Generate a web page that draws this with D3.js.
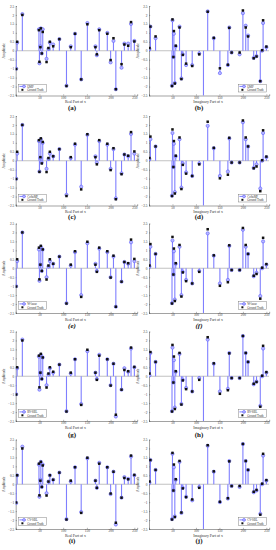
<!DOCTYPE html>
<html><head><meta charset="utf-8">
<script src="https://cdn.jsdelivr.net/npm/d3@7/dist/d3.min.js"></script>
<style>html,body{margin:0;padding:0;background:#fff;}svg{display:block;}</style>
</head><body>
<script>
// ---------- data ----------
const realIndex = [1, 3, 14, 49, 50, 52, 53, 55, 57, 65, 69, 72, 79, 92, 107, 116, 125, 138, 151, 168, 171, 176, 193, 200, 206, 211, 223, 229, 237, 243, 250];
const realTruth = [-1.02, 0.5, 2.0, 1.15, -0.62, 0.2, 1.25, -0.15, 1.05, -0.63, 0.15, 0.5, 0.25, 0.65, -1.97, 0.2, 0.95, -1.6, 1.48, 0.2, -0.2, 1.15, 0.95, -0.52, 0.7, -2.15, -0.75, 0.35, 0.28, 1.6, 0.52];
const realOMP    = [-1.0, 0.45, 2.05, 1.2, -0.7, 0.25, 1.25, -0.15, 1.2, -0.45, 0.1, 0.45, 0.35, 0.65, -1.95, 0.25, 0.95, -1.6, 1.55, 0.25, -0.25, 1.2, 1.0, -0.65, 0.55, -2.15, -0.95, 0.4, 0.4, 1.5, 0.55];
const realCoSaMP = [-1.0, 0.4, 2.0, 1.1, -0.6, 0.15, 1.2, -0.1, 1.0, -0.45, 0.1, 0.4, 0.25, 0.65, -1.9, 0.15, 0.9, -1.45, 1.45, 0.25, -0.1, 1.1, 0.9, -0.45, 0.65, -2.1, -0.7, 0.35, 0.25, 1.5, 0.4];
const realWlasso = [-1.0, 0.4, 2.0, 1.05, -0.7, 0.2, 1.2, -0.15, 1.05, -0.5, 0.1, 0.4, 0.25, 0.65, -1.95, 0.15, 0.9, -1.5, 1.4, 0.25, -0.15, 1.1, 0.9, -0.5, 0.65, -2.15, -0.75, 0.35, 0.25, 1.45, 0.4];
const realRVSBL  = [-1.0, 0.45, 2.05, 1.1, -0.75, 0.2, 1.2, -0.15, 1.05, -0.5, 0.1, 0.45, 0.2, 0.65, -1.95, 0.15, 0.95, -1.55, 1.4, 0.2, -0.15, 1.2, 0.95, -0.5, 0.7, -2.25, -0.75, 0.45, 0.25, 1.55, 0.5];
const realCVSBL  = [-1.05, 0.5, 2.1, 1.1, -0.7, 0.25, 1.25, -0.15, 1.1, -0.5, 0.15, 0.5, 0.25, 0.65, -1.95, 0.15, 0.95, -1.55, 1.45, 0.2, -0.2, 1.2, 0.95, -0.55, 0.7, -2.25, -0.75, 0.4, 0.3, 1.55, 0.5];

const imagIndex = [1, 3, 14, 49, 50, 52, 53, 55, 57, 65, 69, 72, 79, 92, 107, 116, 125, 138, 151, 168, 171, 176, 193, 200, 206, 211, 223, 229, 237, 241, 243, 250];
const imagTruth = [0.15, 1.35, 0.8, -1.97, 1.75, -0.35, 1.1, -1.83, 0.28, 1.3, -1.58, -0.23, -0.72, -0.85, -0.2, -2.7, 2.18, 0.72, -0.98, -0.78, 1.28, -0.1, -0.1, 2.25, 1.3, 0.8, -0.42, -0.32, -1.7, 0.03, 1.7, 0.23];
const imagOMP    = [0.1, 1.35, 0.7, -1.95, 1.7, -0.35, 0.95, -1.8, 0.25, 1.35, -1.55, -0.2, -0.8, -0.8, -0.15, -2.7, 2.2, 0.7, -1.25, -0.8, 1.3, -0.1, -0.2, 2.1, 1.4, 0.85, -0.4, -0.3, -1.7, 0.0, 1.55, 0.2];
const imagCoSaMP = [0.1, 1.2, 0.8, -1.95, 1.55, -0.35, 0.95, -1.75, 0.25, 1.2, -1.5, -0.15, -0.65, -0.85, -0.15, -2.7, 1.95, 0.7, -0.85, -0.6, 1.25, -0.1, -0.1, 2.15, 1.2, 0.8, -0.4, -0.2, -1.55, 0.0, 1.55, 0.2];
const imagWlasso = [0.1, 1.2, 0.8, -1.95, 1.55, -0.35, 0.95, -1.75, 0.25, 1.2, -1.5, -0.2, -0.65, -0.85, -0.15, -2.7, 1.95, 0.7, -0.85, -0.65, 1.25, -0.1, -0.1, 2.15, 1.2, 0.8, -0.45, -0.25, -1.55, 0.0, 1.5, 0.2];
const imagRVSBL  = [0.05, 1.3, 0.8, -1.95, 1.6, -0.35, 0.9, -1.75, 0.25, 1.25, -1.55, -0.2, -0.65, -0.85, -0.1, -2.7, 2.05, 0.7, -0.85, -0.7, 1.3, -0.1, -0.1, 2.25, 1.3, 0.8, -0.45, -0.3, -1.65, 0.0, 1.55, 0.2];
const imagCVSBL  = [0.1, 1.35, 0.8, -1.95, 1.7, -0.35, 0.95, -1.8, 0.25, 1.25, -1.6, -0.2, -0.7, -0.9, -0.15, -2.7, 2.15, 0.7, -1.0, -0.8, 1.3, -0.1, -0.15, 2.25, 1.3, 0.8, -0.45, -0.35, -1.65, 0.0, 1.6, 0.2];

const methodNames = ["OMP", "CoSaMP", "W-lasso", "RV-SBL", "CV-SBL"];
const realEstimates = [realOMP, realCoSaMP, realWlasso, realRVSBL, realCVSBL];
const imagEstimates = [imagOMP, imagCoSaMP, imagWlasso, imagRVSBL, imagCVSBL];
const leftCaptions = ["(a)", "(c)", "(e)", "(g)", "(i)"];
const rightCaptions = ["(b)", "(d)", "(f)", "(h)", "(j)"];
const xTickValues = [50, 100, 150, 200, 250];
const yTickValues = [-2.5, -2, -1.5, -1, -0.5, 0, 0.5, 1, 1.5, 2, 2.5];
const truthLabel = "Ground Truth";
const yTitle = "Amplitude";
const realTitle = "Real Part of x";
const imagTitle = "Imaginary Part of x";

// ---------- layout ----------
const W = 276, H = 550;
const rowTops = [6, 116, 223.5, 331.5, 439.5];
const plotH = 89.5;
const leftX = [15.7, 137.2];
const rightX = [149, 269.2];
const capY = [108.5, 217.5, 326.5, 435.5, 541.5];
const stemColor = "#7f7fff";
const markColor = "#5c5cff";
const font = "'Liberation Serif', 'Times New Roman', serif";

const svg = d3.select("body").append("svg").attr("width", W).attr("height", H);
let clipId = 0;

function drawPanel(xr, top, idx, truth, est, name, xTitle, legendRight, caption, capYpos, italic) {
  const bottom = top + plotH;
  const x = d3.scaleLinear().domain([0, 256]).range(xr);
  const y = d3.scaleLinear().domain([-2.5, 2.5]).range([bottom, top]);
  const g = svg.append("g");
  const cid = "clip" + (clipId++);
  g.append("clipPath").attr("id", cid).append("rect")
    .attr("x", xr[0]).attr("y", top).attr("width", xr[1] - xr[0]).attr("height", plotH);

  // axes
  const yAxis = d3.axisLeft(y).tickValues(yTickValues).tickSize(-1.2).tickPadding(1.5)
    .tickFormat(d => d3.format("")(d));
  const ya = g.append("g").attr("transform", `translate(${xr[0]},0)`).call(yAxis);
  const xAxis = d3.axisBottom(x).tickValues(xTickValues).tickSize(-1.2).tickPadding(1.4);
  const xa = g.append("g").attr("transform", `translate(0,${bottom})`).call(xAxis);
  [ya, xa].forEach(a => {
    a.select(".domain").attr("stroke", "#444").attr("stroke-width", 0.5);
    a.selectAll(".tick line").attr("stroke", "#444").attr("stroke-width", 0.4);
    a.selectAll("text").attr("font-family", font).attr("font-size", 3.4).attr("fill", "#333");
  });
  xa.selectAll("text").attr("dy", "0.6em");

  const p = g.append("g").attr("clip-path", `url(#${cid})`);
  // baseline
  p.append("line").attr("x1", xr[0]).attr("x2", xr[1]).attr("y1", y(0)).attr("y2", y(0))
    .attr("stroke", "#999").attr("stroke-width", 0.6);
  // stems
  p.selectAll(".stem").data(idx).join("line")
    .attr("x1", d => x(d)).attr("x2", d => x(d))
    .attr("y1", y(0)).attr("y2", (d, i) => y(est[i]))
    .attr("stroke", stemColor).attr("stroke-width", 1.1);
  p.selectAll(".est").data(idx).join("circle")
    .attr("cx", d => x(d)).attr("cy", (d, i) => y(est[i])).attr("r", 1.6)
    .attr("fill", "#b8b8ff").attr("stroke", markColor).attr("stroke-width", 0.6);
  p.selectAll(".gt").data(idx).join("rect")
    .attr("x", d => x(d) - 1.25).attr("y", (d, i) => y(truth[i]) - 1.25)
    .attr("width", 2.5).attr("height", 2.5).attr("fill", "#111");

  // titles
  g.append("text").attr("transform", `translate(${xr[0] - 10.5},${(top + bottom) / 2}) rotate(-90)`)
    .attr("text-anchor", "middle").attr("font-family", font).attr("font-size", 3.6).attr("fill", "#333").text(yTitle);
  g.append("text").attr("x", (xr[0] + xr[1]) / 2 - 1).attr("y", bottom + 7.5)
    .attr("text-anchor", "middle").attr("font-family", font).attr("font-size", 3.8).attr("fill", "#333").text(xTitle);

  // legend
  const lw = 28.5, lh = 7.8;
  const lx = legendRight ? xr[1] - 2.5 - lw : xr[0] + 2.5;
  const ly = bottom - 3.5 - lh;
  const lg = g.append("g");
  lg.append("rect").attr("x", lx).attr("y", ly).attr("width", lw).attr("height", lh)
    .attr("fill", "#fff").attr("stroke", "#666").attr("stroke-width", 0.4);
  lg.append("line").attr("x1", lx + 1.2).attr("x2", lx + 7.5).attr("y1", ly + 2.2).attr("y2", ly + 2.2)
    .attr("stroke", stemColor).attr("stroke-width", 1);
  lg.append("circle").attr("cx", lx + 5.8).attr("cy", ly + 2.2).attr("r", 1.4)
    .attr("fill", "#b8b8ff").attr("stroke", markColor).attr("stroke-width", 0.6);
  lg.append("rect").attr("x", lx + 3.2).attr("y", ly + 4.6).attr("width", 2).attr("height", 2).attr("fill", "#111");
  lg.append("text").attr("x", lx + 9).attr("y", ly + 3.3).attr("font-family", font).attr("font-size", 3)
    .attr("fill", "#333").text(name);
  lg.append("text").attr("x", lx + 9).attr("y", ly + 6.8).attr("font-family", font).attr("font-size", 3)
    .attr("fill", "#333").text(truthLabel);

  // caption
  g.append("text").attr("x", legendRight ? 199 : 72).attr("y", capYpos)
    .attr("text-anchor", "middle").attr("dominant-baseline", "middle")
    .attr("font-family", font).attr("font-size", 7).attr("font-weight", "bold")
    .attr("font-style", italic ? "italic" : "normal").attr("fill", "#111").text(caption);
}

for (let r = 0; r < 5; r++) {
  const it = r === 2;
  drawPanel(leftX, rowTops[r], realIndex, realTruth, realEstimates[r], methodNames[r], realTitle, false, leftCaptions[r], capY[r], it);
  drawPanel(rightX, rowTops[r], imagIndex, imagTruth, imagEstimates[r], methodNames[r], imagTitle, true, rightCaptions[r], capY[r], it);
}
</script>
</body></html>
